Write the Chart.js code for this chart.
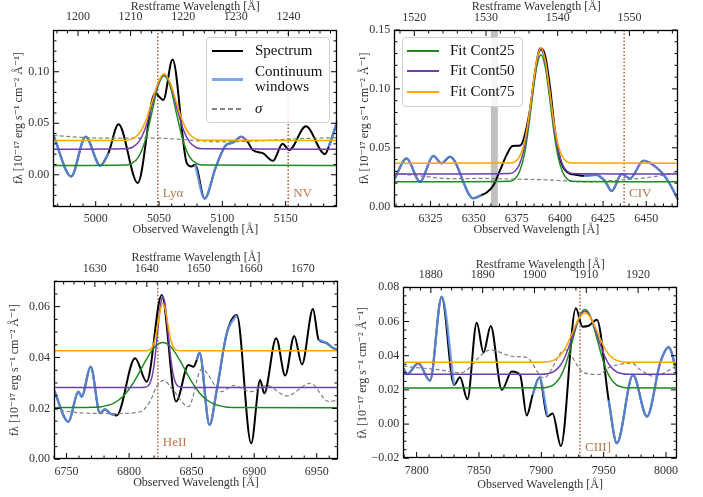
<!DOCTYPE html>
<html>
<head>
<meta charset="utf-8">
<script src="https://cdn.jsdelivr.net/npm/chart.js@4.4.1/dist/chart.umd.min.js"></script>
<style>
  html, body { margin: 0; padding: 0; background: #fff; }
  #page { position: relative; width: 703px; height: 497px; overflow: hidden; }
  .panel { position: absolute; }
  .legend { position: absolute; box-sizing: border-box; border: 1px solid #d2d2d2; border-radius: 4px;
            background: rgba(255,255,255,0.85); }
  .sw { position: absolute; }
  .lbl { position: absolute; font: 15px 'Liberation Serif', serif; color: #111; white-space: pre; line-height: 15.6px; }
</style>
</head>
<body>
<div id="page"></div>
<script>
// 1 + z, used for the restframe (top) axis
const restFactor = 4.155;

// ---- panel 1 : Lya / NV ----
const p1Wave = [4966.5, 4980.6, 4992, 5003.6, 5010, 5018, 5033.2, 5046.8, 5053.4, 5060.7, 5072, 5075.5, 5078.5, 5086, 5095, 5103, 5108, 5115, 5120, 5124, 5132, 5140, 5147.6, 5152.8, 5166, 5181, 5184, 5190.8];
const p1Flux = [0.0387, -0.0016, 0.037, 0.009, 0.021, 0.049, -0.008, 0.079, 0.0726, 0.112, 0.011, 0.008, 0.0098, -0.023, 0.008, 0.029, 0.031, 0.037, 0.032, 0.024, 0.021, 0.0135, 0.030, 0.024, 0.047, 0.020, 0.027, 0.052];
const p1Windows = [[4966.5, 5010], [5078.5, 5120], [5184, 5190.8]];
const p1SigWave = [4966.5, 4990, 5010, 5050, 5070, 5100, 5130, 5160, 5190.8];
const p1Sigma = [0.0382, 0.0362, 0.0355, 0.0355, 0.034, 0.032, 0.033, 0.035, 0.036];
const p1FitWave = [4966.5, 5024, 5029, 5034, 5039, 5044, 5049, 5054, 5059, 5064, 5069, 5074, 5079, 5084, 5190.8];
const p1Fit25 = [0.009, 0.0095, 0.0114, 0.0177, 0.0329, 0.0584, 0.0852, 0.096, 0.0852, 0.0584, 0.0329, 0.0177, 0.0114, 0.0095, 0.009];
const p1Fit50 = [0.0248, 0.0252, 0.0267, 0.0319, 0.0444, 0.0653, 0.0873, 0.0975, 0.0873, 0.0653, 0.0444, 0.0319, 0.0267, 0.0252, 0.0248];
const p1Fit75 = [0.0332, 0.0336, 0.0349, 0.0395, 0.0506, 0.0691, 0.0886, 0.098, 0.0886, 0.0691, 0.0506, 0.0395, 0.0349, 0.0336, 0.0332];
const p1LineNames = ['Lyα', 'NV'];
const p1LineWaves = [5049, 5152];
const p1XTicks = [5000, 5050, 5100, 5150];
const p1RestTicks = [1200, 1210, 1220, 1230, 1240];
const p1YTicks = [0, 0.05, 0.10];

// ---- panel 2 : CIV ----
const p2Wave = [6304, 6311.1, 6318.9, 6326.6, 6331.4, 6336.3, 6349.8, 6354.6, 6357.5, 6361.4, 6365.3, 6369.1, 6372.5, 6376.9, 6378.8, 6382.6, 6385.5, 6388.4, 6391.3, 6394.2, 6397.1, 6400, 6403.9, 6409.7, 6414, 6421, 6426, 6430, 6435.8, 6440.6, 6448.4, 6458, 6463, 6468.6];
const p2Flux = [0.023, 0.041, 0.0212, 0.043, 0.0368, 0.0425, 0.0071, 0.0099, 0.012, 0.018, 0.031, 0.044, 0.0515, 0.052, 0.0566, 0.082, 0.113, 0.1344, 0.129, 0.102, 0.065, 0.041, 0.0297, 0.027, 0.0262, 0.027, 0.022, 0.0133, 0.0277, 0.024, 0.039, 0.0306, 0.021, 0.0057];
const p2Windows = [[6304, 6354.6], [6414, 6468.6]];
const p2SigWave = [6304, 6320, 6336, 6355, 6370, 6396, 6414, 6433, 6452, 6468.6];
const p2Sigma = [0.0283, 0.026, 0.0238, 0.024, 0.0235, 0.0226, 0.021, 0.0224, 0.025, 0.029];
const p2FitWave = [6304, 6371, 6374, 6376.5, 6379, 6381.5, 6384, 6386.5, 6389, 6391.5, 6394, 6396.5, 6399, 6401.5, 6404, 6407, 6468.6];
const p2Fit25 = [0.0212, 0.0217, 0.0238, 0.0294, 0.0418, 0.0638, 0.0925, 0.1184, 0.129, 0.1184, 0.0925, 0.0638, 0.0418, 0.0294, 0.0238, 0.0217, 0.0212];
const p2Fit50 = [0.0277, 0.0282, 0.0303, 0.0357, 0.0478, 0.0693, 0.0973, 0.1227, 0.133, 0.1227, 0.0973, 0.0693, 0.0478, 0.0357, 0.0303, 0.0282, 0.0277];
const p2Fit75 = [0.0368, 0.0370, 0.0383, 0.0423, 0.0522, 0.0715, 0.0987, 0.1243, 0.135, 0.1243, 0.0987, 0.0715, 0.0522, 0.0423, 0.0383, 0.0370, 0.0368];
const p2LineNames = ['CIV'];
const p2LineWaves = [6437.2];
const p2Band = [6360, 6364];
const p2XTicks = [6325, 6350, 6375, 6400, 6425, 6450];
const p2RestTicks = [1520, 1530, 1540, 1550];
const p2YTicks = [0, 0.05, 0.10, 0.15];

// ---- panel 3 : HeII ----
const p3Wave = [6740, 6751.5, 6759.5, 6762.1, 6769.3, 6776.8, 6780.8, 6784.8, 6788.8, 6790.1, 6804.8, 6814.1, 6826.1, 6837.6, 6847.5, 6851.5, 6854.1, 6856.3, 6864.3, 6870.1, 6878.1, 6886.1, 6897.6, 6904.8, 6908, 6917.6, 6924.8, 6932, 6938.2, 6947, 6951.5, 6956.8, 6963.5, 6967];
const p3Flux = [0.0272, 0.0148, 0.0266, 0.0246, 0.0364, 0.0181, 0.0197, 0.018, 0.0174, 0.0172, 0.0397, 0.0305, 0.0646, 0.0227, 0.0371, 0.0364, 0.039, 0.0419, 0.0135, 0.0272, 0.0495, 0.0567, 0.0063, 0.0312, 0.0259, 0.0476, 0.0329, 0.0485, 0.0373, 0.0591, 0.047, 0.0459, 0.0436, 0.043];
const p3Windows = [[6740, 6788.8], [6854.1, 6886.1], [6951.5, 6967]];
const p3SigWave = [6740, 6760, 6790, 6809, 6817, 6822, 6827.5, 6835.5, 6847.5, 6858, 6874, 6883.5, 6897, 6910, 6926, 6945, 6959.5, 6967];
const p3Sigma = [0.0197, 0.0183, 0.018, 0.0187, 0.023, 0.0286, 0.031, 0.027, 0.0207, 0.0355, 0.0266, 0.029, 0.0266, 0.029, 0.0249, 0.0299, 0.0227, 0.0233];
const p3FitWave = [6740, 6767, 6777, 6782, 6787, 6792, 6797, 6802, 6807, 6812, 6815, 6817, 6819, 6821, 6823, 6825, 6827, 6829, 6831, 6833, 6835, 6837, 6839, 6842, 6847, 6852, 6857, 6862, 6867, 6872, 6877, 6887, 6967];
const p3Fit25 = [0.0203, 0.0204, 0.0206, 0.0211, 0.0219, 0.0234, 0.0257, 0.0290, 0.0331, 0.0377, 0.0402, 0.0418, 0.0432, 0.0444, 0.0452, 0.0457, 0.0459, 0.0457, 0.0452, 0.0444, 0.0432, 0.0418, 0.0402, 0.0377, 0.0331, 0.0290, 0.0257, 0.0234, 0.0219, 0.0211, 0.0206, 0.0204, 0.0203];
const p3Fit50 = [0.0282, 0.0282, 0.0282, 0.0282, 0.0282, 0.0282, 0.0282, 0.0282, 0.0282, 0.0283, 0.0288, 0.0303, 0.0340, 0.0411, 0.0509, 0.0602, 0.0640, 0.0602, 0.0509, 0.0411, 0.0340, 0.0303, 0.0288, 0.0283, 0.0282, 0.0282, 0.0282, 0.0282, 0.0282, 0.0282, 0.0282, 0.0282, 0.0282];
const p3Fit75 = [0.0427, 0.0427, 0.0427, 0.0427, 0.0427, 0.0427, 0.0427, 0.0427, 0.0427, 0.0427, 0.0428, 0.0432, 0.0445, 0.0477, 0.0531, 0.0588, 0.0613, 0.0588, 0.0531, 0.0477, 0.0445, 0.0432, 0.0428, 0.0427, 0.0427, 0.0427, 0.0427, 0.0427, 0.0427, 0.0427, 0.0427, 0.0427, 0.0427];
const p3LineNames = ['HeII'];
const p3LineWaves = [6823];
const p3XTicks = [6750, 6800, 6850, 6900, 6950];
const p3RestTicks = [1630, 1640, 1650, 1660, 1670];
const p3YTicks = [0, 0.02, 0.04, 0.06];

// ---- panel 4 : CIII] ----
const p4Wave = [7789.3, 7792.5, 7801.3, 7810.7, 7820.1, 7830, 7834.8, 7840.7, 7848.2, 7853.6, 7859.4, 7868.3, 7876.3, 7883, 7888.3, 7893, 7898.5, 7905, 7909, 7915.7, 7927.7, 7933, 7938, 7944.6, 7954, 7960.6, 7973.5, 7984.7, 7995.4, 8002.1, 8008.8];
const p4Flux = [0.0326, 0.0293, 0.0356, 0.0254, 0.0745, 0.0229, 0.0274, 0.0145, 0.0593, 0.0418, 0.0574, 0.020, 0.0307, 0.0287, 0.005, 0.017, 0.0272, 0.0045, 0.0062, -0.0128, 0.0677, 0.057, 0.0575, 0.061, 0.014, -0.0112, 0.0287, 0.0044, 0.036, 0.0449, 0.0297];
const p4Windows = [[7789.3, 7830], [7893, 7905], [7954, 8008.8]];
const p4SigWave = [7789.3, 7800, 7816, 7835, 7859, 7878, 7888, 7902, 7919, 7934, 7946, 7954, 7973, 7979, 7990, 8008.8];
const p4Sigma = [0.034, 0.033, 0.032, 0.030, 0.0433, 0.0395, 0.039, 0.027, 0.0435, 0.030, 0.029, 0.033, 0.0356, 0.032, 0.028, 0.034];
const p4FitWave = [7789.3, 7900, 7905, 7910, 7915, 7919, 7923, 7927, 7931, 7935, 7939, 7943, 7947, 7951, 7955, 7960, 7965, 7970, 8008.8];
const p4Fit25 = [0.0211, 0.0212, 0.0216, 0.0231, 0.0273, 0.0339, 0.0435, 0.0544, 0.0635, 0.067, 0.0635, 0.0544, 0.0435, 0.0339, 0.0273, 0.0231, 0.0216, 0.0212, 0.0211];
const p4Fit50 = [0.0291, 0.0292, 0.0295, 0.0307, 0.0341, 0.0394, 0.0471, 0.0559, 0.0632, 0.066, 0.0632, 0.0559, 0.0471, 0.0394, 0.0341, 0.0307, 0.0295, 0.0292, 0.0291];
const p4Fit75 = [0.0361, 0.0362, 0.0364, 0.0374, 0.0400, 0.0441, 0.0502, 0.0571, 0.0628, 0.065, 0.0628, 0.0571, 0.0502, 0.0441, 0.0400, 0.0374, 0.0364, 0.0362, 0.0361];
const p4LineNames = ['CIII]'];
const p4LineWaves = [7931];
const p4XTicks = [7800, 7850, 7900, 7950, 8000];
const p4RestTicks = [1880, 1890, 1900, 1910, 1920];
const p4YTicks = [-0.02, 0, 0.02, 0.04, 0.06, 0.08];

const FONT = "'Liberation Serif', 'DejaVu Serif', serif";
const TEXT = '#333';
Chart.defaults.font.family = FONT;
Chart.defaults.font.size = 12;
Chart.defaults.color = TEXT;

const COL = {
  spec: '#000', cont: 'rgba(100,149,237,0.85)', sigma: '#808080',
  f25: '#1f8a1f', f50: '#6f3fb0', f75: '#ffa500', line: '#a0522d', lineText: '#b8764a'
};

const panels = [
  { box: [0, 0, 350, 248], area: [53.3, 29.5, 337.3, 206.7], titles: [19, 6.7, 230],
    wave: p1Wave, flux: p1Flux, wins: p1Windows, sigWave: p1SigWave, sigma: p1Sigma,
    fitWave: p1FitWave, fits: [p1Fit25, p1Fit50, p1Fit75], names: p1LineNames, lines: p1LineWaves,
    xr: [4966.5, 5190.8], yr: [-0.031, 0.141], xt: p1XTicks, rt: p1RestTicks, yt: p1YTicks,
    minor: [10, 2, 0.01], lift: 9.5 },
  { box: [350, 0, 353, 248], area: [394.3, 30, 678.3, 206.7], titles: [365, 7.3, 230],
    wave: p2Wave, flux: p2Flux, wins: p2Windows, sigWave: p2SigWave, sigma: p2Sigma,
    fitWave: p2FitWave, fits: [p2Fit25, p2Fit50, p2Fit75], names: p2LineNames, lines: p2LineWaves,
    band: p2Band,
    xr: [6304, 6468.6], yr: [0, 0.15], xt: p2XTicks, rt: p2RestTicks, yt: p2YTicks,
    minor: [5, 2, 0.01], lift: 9.5 },
  { box: [0, 248, 350, 249], area: [54, 280.7, 338, 459.3], titles: [15, 258.3, 483.3],
    wave: p3Wave, flux: p3Flux, wins: p3Windows, sigWave: p3SigWave, sigma: p3Sigma,
    fitWave: p3FitWave, fits: [p3Fit25, p3Fit50, p3Fit75], names: p3LineNames, lines: p3LineWaves,
    xr: [6740, 6967], yr: [0, 0.0702], xt: p3XTicks, rt: p3RestTicks, yt: p3YTicks,
    minor: [10, 2, 0.005], lift: 13 },
  { box: [350, 248, 353, 249], area: [403.3, 287.3, 677, 458.3], titles: [363, 265, 485],
    wave: p4Wave, flux: p4Flux, wins: p4Windows, sigWave: p4SigWave, sigma: p4Sigma,
    fitWave: p4FitWave, fits: [p4Fit25, p4Fit50, p4Fit75], names: p4LineNames, lines: p4LineWaves,
    xr: [7789.3, 8008.8], yr: [-0.02, 0.08], xt: p4XTicks, rt: p4RestTicks, yt: p4YTicks,
    minor: [10, 2, 0.005], lift: 7 }
];

function pts(xs, ys) { return xs.map((x, i) => ({ x, y: ys[i] })); }
function windowed(xs, ys, wins) {
  return xs.map((x, i) => ({ x, y: wins.some(w => x >= w[0] && x <= w[1]) ? ys[i] : null }));
}
function fmtY(v) {
  const s = Math.abs(v).toFixed(2);
  return v < -1e-9 ? '\u2212' + s : s;
}

// inward ticks, frame, emission-line markers
function decor(p) {
  const eachTick = (scale, majors, step, fn) => {
    majors.forEach(v => fn(scale.getPixelForValue(v), 5.5));
    const k0 = Math.ceil(scale.min / step - 1e-6);
    for (let k = k0; k * step <= scale.max + 1e-9; k++) {
      const v = k * step;
      if (majors.some(m => Math.abs(m - v) < step * 0.01)) continue;
      fn(scale.getPixelForValue(v), 3);
    }
  };
  return {
    id: 'decor',
    beforeDatasetsDraw(chart) {
      const { ctx, chartArea: a, scales: { x } } = chart;
      ctx.save();
      ctx.beginPath();
      ctx.rect(a.left, a.top, a.right - a.left, a.bottom - a.top);
      ctx.clip();
      if (p.band) {
        const x0 = x.getPixelForValue(p.band[0]), x1 = x.getPixelForValue(p.band[1]);
        ctx.fillStyle = 'rgba(150,150,150,0.6)';
        ctx.fillRect(x0, a.top, x1 - x0, a.bottom - a.top);
      }
      ctx.strokeStyle = COL.line;
      ctx.lineWidth = 1.4;
      ctx.setLineDash([1.5, 2]);
      p.lines.forEach(w => {
        const px = x.getPixelForValue(w);
        ctx.beginPath(); ctx.moveTo(px, a.top); ctx.lineTo(px, a.bottom); ctx.stroke();
      });
      ctx.restore();
    },
    afterDatasetsDraw(chart) {
      const { ctx, chartArea: a, scales: { x, x2, y } } = chart;
      ctx.save();
      ctx.fillStyle = COL.lineText;
      ctx.font = '13px ' + FONT;
      ctx.textAlign = 'left';
      ctx.textBaseline = 'alphabetic';
      p.lines.forEach((w, i) => ctx.fillText(p.names[i], x.getPixelForValue(w) + 5, a.bottom - p.lift));

      const l = Math.round(a.left) + 0.5, r = Math.round(a.right) - 0.5;
      const t = Math.round(a.top) + 0.5, b = Math.round(a.bottom) - 0.5;
      ctx.strokeStyle = '#000';
      ctx.lineWidth = 1.3;
      ctx.setLineDash([]);
      ctx.strokeRect(l, t, r - l, b - t);
      ctx.lineWidth = 1;
      ctx.beginPath();
      eachTick(x, p.xt, p.minor[0], (px, len) => { ctx.moveTo(px, b); ctx.lineTo(px, b - len); });
      eachTick(x2, p.rt, p.minor[1], (px, len) => { ctx.moveTo(px, t); ctx.lineTo(px, t + len); });
      eachTick(y, p.yt, p.minor[2], (py, len) => {
        ctx.moveTo(l, py); ctx.lineTo(l + len, py);
        ctx.moveTo(r, py); ctx.lineTo(r - len, py);
      });
      ctx.stroke();
      ctx.restore();
    }
  };
}

const page = document.getElementById('page');

panels.forEach(p => {
  const [bx, by, bw, bh] = p.box;
  const [L, T, R, B] = p.area;
  const [yTitleX, topTitleY, botTitleY] = p.titles;
  const pad = {
    left: yTitleX - 6 - bx,
    top: topTitleY - 6 - by,
    right: bx + bw - R,
    bottom: by + bh - (botTitleY + 6)
  };
  const wy = L - bx - pad.left;
  const ht = T - by - pad.top;
  const hb = botTitleY + 6 - B;

  const holder = document.createElement('div');
  holder.className = 'panel';
  holder.style.left = bx + 'px';
  holder.style.top = by + 'px';
  const cv = document.createElement('canvas');
  cv.width = bw; cv.height = bh;
  cv.style.width = bw + 'px'; cv.style.height = bh + 'px';
  holder.appendChild(cv);
  page.appendChild(holder);

  const setTicks = vals => s => { s.ticks = vals.map(v => ({ value: v })); };
  const line = (data, color, width, order, extra) => Object.assign({
    data, borderColor: color, borderWidth: width, order, pointRadius: 0, fill: false,
    cubicInterpolationMode: 'monotone', spanGaps: false
  }, extra || {});
  const title = text => ({ display: true, text, padding: 0, color: TEXT, font: { size: 12, lineHeight: 1 } });
  const noGrid = { display: false, drawTicks: false };

  new Chart(cv, {
    type: 'line',
    data: {
      datasets: [
        line(pts(p.fitWave, p.fits[2]), COL.f75, 1.5, 1),
        line(pts(p.fitWave, p.fits[1]), COL.f50, 1.5, 2),
        line(pts(p.fitWave, p.fits[0]), COL.f25, 1.5, 3),
        line(pts(p.sigWave, p.sigma), COL.sigma, 1.2, 4, { borderDash: [4, 2.5] }),
        line(windowed(p.wave, p.flux, p.wins), COL.cont, 2.4, 5),
        line(pts(p.wave, p.flux), COL.spec, 2, 6)
      ]
    },
    options: {
      responsive: false,
      animation: false,
      devicePixelRatio: 1,
      layout: { padding: pad },
      plugins: { legend: { display: false }, tooltip: { enabled: false } },
      scales: {
        x: {
          type: 'linear', position: 'bottom', min: p.xr[0], max: p.xr[1], bounds: 'data',
          afterBuildTicks: setTicks(p.xt), afterFit: s => { s.height = hb; },
          grid: noGrid, border: { display: false },
          ticks: { autoSkip: false, maxRotation: 0, padding: 5, callback: v => String(v) },
          title: title('Observed Wavelength [Å]')
        },
        x2: {
          type: 'linear', axis: 'x', position: 'top',
          min: p.xr[0] / restFactor, max: p.xr[1] / restFactor, bounds: 'data',
          afterBuildTicks: setTicks(p.rt), afterFit: s => { s.height = ht; },
          grid: noGrid, border: { display: false },
          ticks: { autoSkip: false, maxRotation: 0, padding: 5, callback: v => String(Math.round(v)) },
          title: title('Restframe Wavelength [Å]')
        },
        y: {
          type: 'linear', position: 'left', min: p.yr[0], max: p.yr[1], bounds: 'data',
          afterBuildTicks: setTicks(p.yt), afterFit: s => { s.width = wy; },
          grid: noGrid, border: { display: false },
          ticks: { autoSkip: false, padding: 4, callback: v => fmtY(v) },
          title: title('fλ [10⁻¹⁷ erg s⁻¹ cm⁻² Å⁻¹]')
        }
      }
    },
    plugins: [decor(p)]
  });
});

// legends (page coordinates)
const legends = [
  { box: [206, 37, 124, 86], sw: [212, 243], tx: 255, items: [
    { text: 'Spectrum', y: 50.7, color: COL.spec, w: 2 },
    { text: 'Continuum\nwindows', y: 79.5, color: COL.cont, w: 2.5 },
    { text: 'σ', y: 108.3, color: COL.sigma, w: 1.5, dash: true, italic: true }
  ] },
  { box: [401.7, 36.7, 121, 70], sw: [407, 439], tx: 450, items: [
    { text: 'Fit Cont25', y: 50.7, color: COL.f25, w: 2 },
    { text: 'Fit Cont50', y: 71.2, color: COL.f50, w: 2 },
    { text: 'Fit Cont75', y: 91.7, color: COL.f75, w: 2 }
  ] }
];

legends.forEach(lg => {
  const box = document.createElement('div');
  box.className = 'legend';
  Object.assign(box.style, { left: lg.box[0] + 'px', top: lg.box[1] + 'px', width: lg.box[2] + 'px', height: lg.box[3] + 'px' });
  page.appendChild(box);
  lg.items.forEach(it => {
    const sw = document.createElement('div');
    sw.className = 'sw';
    Object.assign(sw.style, {
      left: lg.sw[0] + 'px', width: (lg.sw[1] - lg.sw[0]) + 'px',
      top: Math.round(it.y - it.w / 2) + 'px', height: Math.round(it.w) + 'px',
      background: it.dash
        ? 'repeating-linear-gradient(90deg, ' + it.color + ' 0 5px, transparent 5px 8px)'
        : it.color
    });
    page.appendChild(sw);
    const t = document.createElement('div');
    t.className = 'lbl';
    const nLines = it.text.split('\n').length;
    t.textContent = it.text;
    t.style.left = lg.tx + 'px';
    t.style.top = (it.y - nLines * 15.6 / 2) + 'px';
    if (it.italic) t.style.fontStyle = 'italic';
    page.appendChild(t);
  });
});
</script>
</body>
</html>
